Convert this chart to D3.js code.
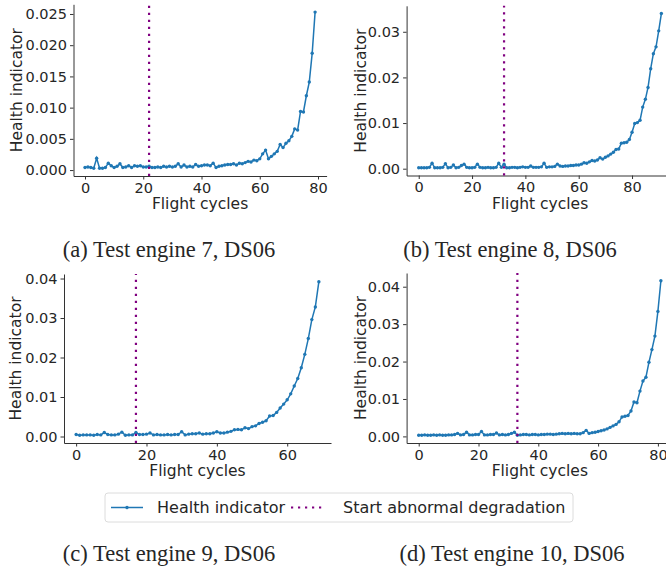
<!doctype html>
<html lang="en">
<head>
<meta charset="UTF-8">
<title>Health indicator, test engines DS06</title>
<style>
    body { margin: 0; background: #fff; }
    #chart text { fill: #262626; }
    .tick text { font-family: "DejaVu Sans", sans-serif; font-size: 14.5px; }
    .lbl { font-family: "DejaVu Sans", sans-serif; font-size: 15.5px; }
    .cap { font-family: "Liberation Serif", "Times New Roman", serif; font-size: 22.5px; }
</style>
</head>
<body>
<svg id="chart" width="666" height="570"></svg>

<script src="https://cdn.jsdelivr.net/npm/d3@7"></script>
<script>
    // health indicator per flight cycle (index = cycle)
    var hiEngine7 = [
        0.0004, 0.0005, 0.0004, 0.0003, 0.0019, 0.0003, 0.0003, 0.0004, 0.0011, 0.0007,
        0.0004, 0.0006, 0.0010, 0.0004, 0.0005, 0.0007, 0.0004, 0.0007, 0.0006, 0.0007,
        0.0005, 0.0005, 0.0006, 0.0004, 0.0004, 0.0005, 0.0004, 0.0006, 0.0005, 0.0006,
        0.0005, 0.0006, 0.0010, 0.0005, 0.0008, 0.0005, 0.0006, 0.0005, 0.0009, 0.0006,
        0.0007, 0.0008, 0.0008, 0.0007, 0.0011, 0.0004, 0.0006, 0.0007, 0.0008, 0.0009,
        0.0009, 0.0010, 0.0008, 0.0011, 0.0010, 0.0012, 0.0014, 0.0013, 0.0016, 0.0015,
        0.0018, 0.0026, 0.0032, 0.0018, 0.0022, 0.0026, 0.0030, 0.0041, 0.0036, 0.0043,
        0.0047, 0.0054, 0.0066, 0.0064, 0.0094, 0.0093, 0.0119, 0.0141, 0.0187, 0.0253
    ];
    var hiEngine8 = [
        0.0002, 0.0002, 0.0002, 0.0002, 0.0003, 0.0012, 0.0002, 0.0002, 0.0002, 0.0003,
        0.0011, 0.0002, 0.0003, 0.0008, 0.0002, 0.0003, 0.0007, 0.0010, 0.0003, 0.0002,
        0.0002, 0.0003, 0.0010, 0.0003, 0.0002, 0.0002, 0.0003, 0.0002, 0.0002, 0.0003,
        0.0012, 0.0003, 0.0010, 0.0002, 0.0002, 0.0003, 0.0003, 0.0002, 0.0003, 0.0004,
        0.0003, 0.0003, 0.0006, 0.0003, 0.0003, 0.0003, 0.0004, 0.0012, 0.0003, 0.0004,
        0.0004, 0.0005, 0.0010, 0.0006, 0.0005, 0.0006, 0.0006, 0.0007, 0.0007, 0.0008,
        0.0008, 0.0010, 0.0013, 0.0012, 0.0015, 0.0018, 0.0017, 0.0019, 0.0024, 0.0021,
        0.0025, 0.0028, 0.0032, 0.0036, 0.0042, 0.0043, 0.0056, 0.0057, 0.0058, 0.0064,
        0.0080, 0.0099, 0.0101, 0.0106, 0.0135, 0.0152, 0.0178, 0.0219, 0.0252, 0.0267,
        0.0302, 0.0340
    ];
    var hiEngine9 = [
        0.0005, 0.0003, 0.0004, 0.0004, 0.0004, 0.0003, 0.0005, 0.0004, 0.0010, 0.0005,
        0.0004, 0.0004, 0.0006, 0.0011, 0.0003, 0.0004, 0.0004, 0.0010, 0.0005, 0.0005,
        0.0006, 0.0009, 0.0004, 0.0005, 0.0004, 0.0004, 0.0005, 0.0004, 0.0005, 0.0005,
        0.0012, 0.0004, 0.0006, 0.0007, 0.0007, 0.0009, 0.0006, 0.0007, 0.0007, 0.0009,
        0.0012, 0.0009, 0.0009, 0.0011, 0.0013, 0.0017, 0.0018, 0.0017, 0.0022, 0.0020,
        0.0025, 0.0027, 0.0033, 0.0036, 0.0040, 0.0052, 0.0053, 0.0061, 0.0072, 0.0082,
        0.0093, 0.0108, 0.0128, 0.0147, 0.0174, 0.0208, 0.0248, 0.0296, 0.0328, 0.0392
    ];
    var hiEngine10 = [
        0.0003, 0.0003, 0.0004, 0.0003, 0.0003, 0.0004, 0.0003, 0.0004, 0.0003, 0.0003,
        0.0004, 0.0004, 0.0005, 0.0008, 0.0004, 0.0005, 0.0011, 0.0004, 0.0004, 0.0005,
        0.0005, 0.0013, 0.0004, 0.0004, 0.0005, 0.0005, 0.0009, 0.0004, 0.0005, 0.0004,
        0.0005, 0.0008, 0.0011, 0.0003, 0.0004, 0.0005, 0.0005, 0.0004, 0.0005, 0.0005,
        0.0004, 0.0005, 0.0005, 0.0006, 0.0006, 0.0005, 0.0006, 0.0007, 0.0008, 0.0007,
        0.0008, 0.0007, 0.0008, 0.0007, 0.0007, 0.0010, 0.0016, 0.0008, 0.0010, 0.0011,
        0.0013, 0.0015, 0.0017, 0.0020, 0.0024, 0.0028, 0.0032, 0.0039, 0.0052, 0.0054,
        0.0056, 0.0068, 0.0092, 0.0090, 0.0121, 0.0148, 0.0158, 0.0198, 0.0232, 0.0268,
        0.0334, 0.0416
    ];

    var startCycles = [22, 32, 17, 33];
    var captions = ['(a) Test engine 7, DS06', '(b) Test engine 8, DS06',
                    '(c) Test engine 9, DS06', '(d) Test engine 10, DS06'];
    var xTicks = [0, 20, 40, 60, 80];
    var yTicksA = [0, 0.005, 0.01, 0.015, 0.02, 0.025];
    var yTicksB = [0, 0.01, 0.02, 0.03];
    var yTicksCD = [0, 0.01, 0.02, 0.03, 0.04];
    var legendLabels = ['Health indicator', 'Start abnormal degradation'];

    var blue = '#1f77b4', purple = '#800080';

    var panels = [
        { hi: hiEngine7, start: startCycles[0], cap: captions[0], yt: yTicksA, fmt: '.3f',
          l: 73.5, r: 326.6, t: 4.3, b: 176, ylx: 17, capx: 169, capy: 257 },
        { hi: hiEngine8, start: startCycles[1], cap: captions[1], yt: yTicksB, fmt: '.2f',
          l: 406.6, r: 673.5, t: 5.8, b: 175.5, ylx: 361, capx: 510, capy: 257 },
        { hi: hiEngine9, start: startCycles[2], cap: captions[2], yt: yTicksCD, fmt: '.2f',
          l: 64, r: 331, t: 274, b: 443, ylx: 16, capx: 169, capy: 561 },
        { hi: hiEngine10, start: startCycles[3], cap: captions[3], yt: yTicksCD, fmt: '.2f',
          l: 406.6, r: 673, t: 273, b: 443, ylx: 361, capx: 512, capy: 561 }
    ];

    var svg = d3.select('#chart');

    // matplotlib style 5% margins
    function padded(lo, hi) {
        var m = (hi - lo) * 0.05;
        return [lo - m, hi + m];
    }

    panels.forEach(function(p) {
        var data = p.hi.map(function(v, i) { return { x: i, y: v } });
        var xScale = d3.scaleLinear().domain(padded(0, data.length - 1)).range([p.l, p.r]);
        var yScale = d3.scaleLinear().domain(padded(d3.min(p.hi), d3.max(p.hi))).range([p.b, p.t]);
        var xMax = xScale.domain()[1];

        var g = svg.append('g');

        var xAxis = g.append('g')
            .attr('transform', 'translate(0,' + p.b + ')')
            .call(d3.axisBottom(xScale)
                .tickValues(xTicks.filter(function(t) { return t <= xMax }))
                .tickSize(3.5).tickPadding(3).tickSizeOuter(0));
        var yAxis = g.append('g')
            .attr('transform', 'translate(' + p.l + ',0)')
            .call(d3.axisLeft(yScale).tickValues(p.yt).tickFormat(d3.format(p.fmt))
                .tickSize(3.5).tickPadding(3).tickSizeOuter(0));
        [xAxis, yAxis].forEach(function(a) {
            a.select('.domain').attr('stroke', '#333').attr('stroke-width', 1);
            a.selectAll('.tick line').attr('stroke', '#333');
            a.selectAll('.tick text').attr('fill', '#262626');
        });

        var line = d3.line()
            .x(function(d) { return xScale(d.x) })
            .y(function(d) { return yScale(d.y) });

        g.append('path')
            .attr('d', line(data))
            .attr('fill', 'none')
            .attr('stroke', blue)
            .attr('stroke-width', 1.5);

        g.selectAll('circle')
            .data(data)
            .enter().append('circle')
            .attr('cx', function(d) { return xScale(d.x) })
            .attr('cy', function(d) { return yScale(d.y) })
            .attr('r', 1.7)
            .attr('fill', blue);

        g.append('line')
            .attr('x1', xScale(p.start)).attr('x2', xScale(p.start))
            .attr('y1', p.b).attr('y2', p.t)
            .attr('stroke', purple)
            .attr('stroke-width', 2.2)
            .attr('stroke-dasharray', '2.2 4.8');

        g.append('text')
            .attr('class', 'lbl')
            .attr('x', (p.l + p.r) / 2)
            .attr('y', p.b + 33)
            .attr('text-anchor', 'middle')
            .text('Flight cycles');

        g.append('text')
            .attr('class', 'lbl')
            .attr('transform', 'translate(' + p.ylx + ',' + (p.t + p.b) / 2 + ') rotate(-90)')
            .attr('text-anchor', 'middle')
            .attr('dy', '0.35em')
            .text('Health indicator');

        svg.append('text')
            .attr('class', 'cap')
            .attr('x', p.capx)
            .attr('y', p.capy)
            .attr('text-anchor', 'middle')
            .text(p.cap);
    });

    // legend
    var lg = svg.append('g').attr('transform', 'translate(105,493)');
    lg.append('rect')
        .attr('width', 468).attr('height', 29)
        .attr('rx', 3)
        .attr('fill', '#fff')
        .attr('stroke', '#dcdcdc');
    lg.append('line')
        .attr('x1', 6).attr('x2', 38).attr('y1', 14.5).attr('y2', 14.5)
        .attr('stroke', blue).attr('stroke-width', 1.5);
    lg.append('circle').attr('cx', 22).attr('cy', 14.5).attr('r', 1.7).attr('fill', blue);
    lg.append('text').attr('class', 'lbl').attr('x', 52).attr('y', 14.5).attr('dy', '0.35em')
        .style('font-size', '16px').text(legendLabels[0]);
    lg.append('line')
        .attr('x1', 186).attr('x2', 221).attr('y1', 14.5).attr('y2', 14.5)
        .attr('stroke', purple).attr('stroke-width', 2.2).attr('stroke-dasharray', '2.2 4.8');
    lg.append('text').attr('class', 'lbl').attr('x', 238).attr('y', 14.5).attr('dy', '0.35em')
        .style('font-size', '16px').text(legendLabels[1]);
</script>
</body>
</html>
